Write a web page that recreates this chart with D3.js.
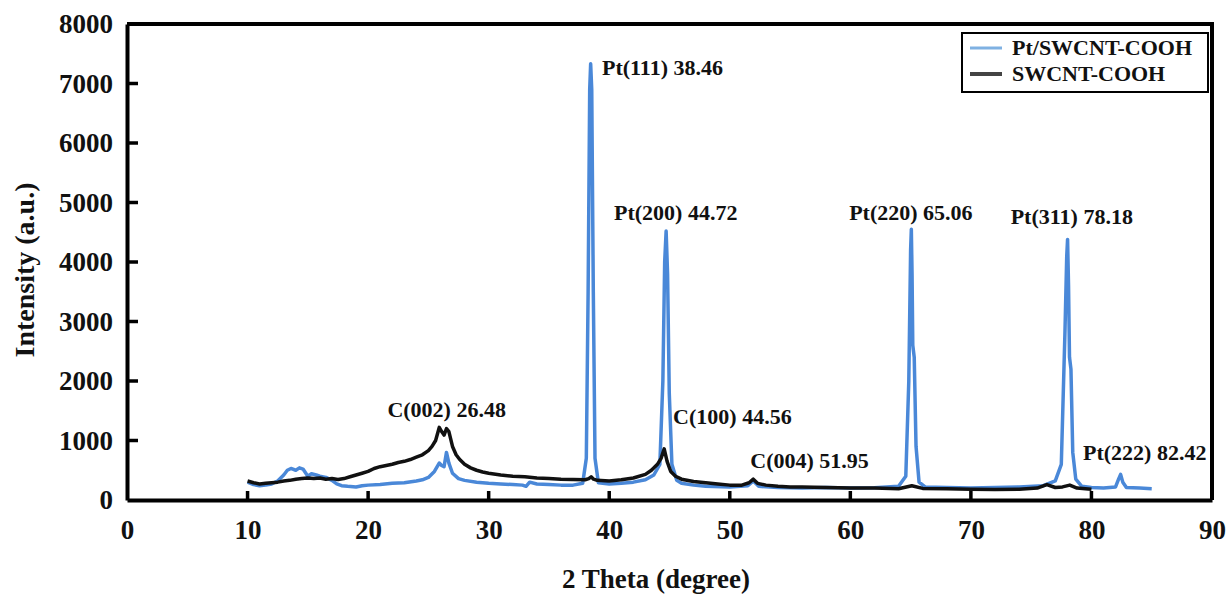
<!DOCTYPE html>
<html>
<head>
<meta charset="utf-8">
<script src="https://cdn.jsdelivr.net/npm/d3@7"></script>
<style>
  body { margin: 0; background: #fff; }
  svg text { font-family: "Liberation Serif", "Times New Roman", serif; font-weight: bold; fill: #111; }
</style>
</head>
<body>
<div id="container"></div>
<script>
// Pt/SWCNT-COOH pattern, [2theta, intensity]
var ptSwcnt = [
  [10,300],[10.5,260],[11,240],[11.5,250],[12,270],[12.5,320],[13,420],[13.3,500],[13.6,530],[14,500],
  [14.3,540],[14.6,520],[15,400],[15.3,440],[15.7,420],[16,400],[16.5,380],[17,330],[17.4,270],[17.8,240],
  [18.3,230],[19,220],[19.5,240],[20,250],[21,260],[22,280],[23,290],[24,320],[24.5,340],[25,380],
  [25.5,480],[25.9,620],[26.1,580],[26.3,560],[26.5,800],[26.7,620],[27,450],[27.5,360],[28,330],[29,300],
  [30,280],[31,270],[32,260],[32.8,250],[33.1,230],[33.4,300],[34,270],[35,260],[36,250],[37,250],
  [37.8,280],[38.1,700],[38.25,3500],[38.38,6900],[38.46,7330],[38.55,6900],[38.68,3500],[38.82,700],[39.1,290],[40,270],
  [41,280],[42,300],[43,340],[43.7,420],[44.2,600],[44.45,2000],[44.6,4000],[44.72,4520],[44.84,3800],[44.98,1800],
  [45.2,600],[45.6,330],[46,280],[47,250],[48,230],[50,220],[51.5,240],[51.95,320],[52.4,230],[54,210],
  [56,200],[58,210],[60,200],[62,205],[64,230],[64.6,400],[64.85,2000],[65.0,4200],[65.06,4550],[65.12,3800],
  [65.18,2600],[65.3,2400],[65.45,900],[65.7,300],[66.2,220],[68,210],[70,200],[72,210],[74,220],[76,240],
  [77,320],[77.5,600],[77.8,2800],[77.95,4100],[78.02,4380],[78.1,3600],[78.18,2400],[78.3,2200],[78.45,800],[78.7,350],
  [79.2,230],[80,210],[81,200],[82,220],[82.25,350],[82.42,430],[82.6,300],[82.9,210],[84,200],[85,190]
]

// SWCNT-COOH pattern, [2theta, intensity]
var swcnt = [
  [10,320],[10.5,290],[11,270],[11.5,280],[12,290],[12.5,300],[13,320],[13.5,330],[14,350],[14.5,360],
  [15,370],[15.5,360],[16,370],[16.5,350],[17,360],[17.5,345],[18,360],[18.5,390],[19,420],[19.5,450],
  [20,480],[20.5,530],[21,560],[21.5,580],[22,600],[22.5,630],[23,650],[23.5,680],[24,720],[24.5,760],
  [25,830],[25.3,900],[25.6,1000],[25.9,1220],[26.1,1150],[26.3,1090],[26.5,1200],[26.7,1150],[27,900],[27.3,760],
  [27.6,680],[28,600],[28.5,540],[29,500],[29.5,470],[30,450],[31,420],[32,400],[33,390],[34,370],
  [35,360],[36,350],[37,345],[38,340],[38.3,360],[38.5,390],[38.7,350],[39,330],[40,320],[41,340],
  [42,370],[43,430],[43.5,500],[44,600],[44.3,700],[44.56,860],[44.8,650],[45.1,480],[45.5,400],[46,350],
  [47,310],[48,290],[49,270],[50,250],[51,250],[51.6,290],[51.95,350],[52.3,280],[53,250],[54,230],
  [55,220],[56,220],[58,210],[60,200],[62,200],[64,190],[65.1,240],[66,195],[68,190],[70,180],
  [72,175],[74,180],[75.5,200],[76.3,260],[77,210],[77.6,220],[78.2,250],[78.8,200],[79.5,190],[80,180]
]

var xTicks = [0, 10, 20, 30, 40, 50, 60, 70, 80, 90]
var yTicks = [0, 1000, 2000, 3000, 4000, 5000, 6000, 7000, 8000]

var seriesNames = ['Pt/SWCNT-COOH', 'SWCNT-COOH']

// peak labels: text, anchor 2theta, anchor intensity
var peakLabels = [
  ['Pt(111) 38.46', 39.4, 7150],
  ['Pt(200) 44.72', 40.4, 4700],
  ['Pt(220) 65.06', 59.9, 4700],
  ['Pt(311) 78.18', 73.3, 4640],
  ['C(002) 26.48', 21.6, 1400],
  ['C(100) 44.56', 45.3, 1270],
  ['C(004) 51.95', 51.7, 530],
  ['Pt(222) 82.42', 79.3, 670]
]

var width = 1227
var height = 595
var plotLeft = 127, plotRight = 1212, plotTop = 24, plotBottom = 500

var svg = d3.select('#container').append('svg')
  .attr('width', width)
  .attr('height', height)

var x = d3.scaleLinear().domain([0, 90]).range([plotLeft, plotRight])
var y = d3.scaleLinear().domain([0, 8000]).range([plotBottom, plotTop])

var line = d3.line()
  .x(function(d){ return x(d[0]) })
  .y(function(d){ return y(d[1]) })

svg.append('path')
  .datum(ptSwcnt)
  .attr('d', line)
  .attr('fill', 'none')
  .attr('stroke', '#4a88d8')
  .attr('stroke-width', 3.5)
  .attr('stroke-linejoin', 'round')

svg.append('path')
  .datum(swcnt)
  .attr('d', line)
  .attr('fill', 'none')
  .attr('stroke', '#111')
  .attr('stroke-width', 3.5)
  .attr('stroke-linejoin', 'round')

// frame top and right
svg.append('path')
  .attr('d', 'M' + plotLeft + ',' + plotTop + 'H' + plotRight + 'V' + plotBottom)
  .attr('fill', 'none')
  .attr('stroke', '#000')
  .attr('stroke-width', 4)

// axes
var xAxis = d3.axisBottom(x).tickValues(xTicks).tickSize(0).tickPadding(20)
var gx = svg.append('g').attr('transform', 'translate(0,' + plotBottom + ')').call(xAxis)
gx.select('.domain').attr('stroke', '#000').attr('stroke-width', 4)
gx.selectAll('text').attr('font-size', 27).attr('fill', '#111')

var yAxis = d3.axisLeft(y).tickValues(yTicks).tickFormat(d3.format('d')).tickSize(0).tickPadding(14)
var gy = svg.append('g').attr('transform', 'translate(' + plotLeft + ',0)').call(yAxis)
gy.select('.domain').attr('stroke', '#000').attr('stroke-width', 4)
gy.selectAll('text').attr('font-size', 27).attr('fill', '#111')

// inward ticks
svg.selectAll('.xtick')
  .data(xTicks.filter(function(d){ return d > 0 && d < 90 }))
  .enter().append('line')
  .attr('x1', function(d){ return x(d) })
  .attr('x2', function(d){ return x(d) })
  .attr('y1', plotBottom)
  .attr('y2', plotBottom - 9)
  .attr('stroke', '#000')
  .attr('stroke-width', 3.5)

svg.selectAll('.ytick')
  .data(yTicks.filter(function(d){ return d > 0 && d < 8000 }))
  .enter().append('line')
  .attr('x1', plotLeft)
  .attr('x2', plotLeft + 11)
  .attr('y1', function(d){ return y(d) })
  .attr('y2', function(d){ return y(d) })
  .attr('stroke', '#000')
  .attr('stroke-width', 3.5)

// axis titles
svg.append('text')
  .attr('x', 656)
  .attr('y', 588)
  .attr('text-anchor', 'middle')
  .attr('font-size', 27)
  .text('2 Theta (degree)')

svg.append('text')
  .attr('transform', 'translate(34,270) rotate(-90)')
  .attr('text-anchor', 'middle')
  .attr('font-size', 28)
  .text('Intensity (a.u.)')

// peak labels
svg.selectAll('.peak')
  .data(peakLabels)
  .enter().append('text')
  .attr('x', function(d){ return x(d[1]) })
  .attr('y', function(d){ return y(d[2]) })
  .attr('font-size', 22)
  .text(function(d){ return d[0] })

// legend
var legend = svg.append('g').attr('transform', 'translate(962,33)')
legend.append('rect')
  .attr('width', 246)
  .attr('height', 59)
  .attr('fill', '#fff')
  .attr('stroke', '#000')
  .attr('stroke-width', 2)

var legendColors = ['#7fb1e2', '#444']
seriesNames.forEach(function(name, i){
  legend.append('line')
    .attr('x1', 8).attr('x2', 40)
    .attr('y1', 15 + i * 26).attr('y2', 15 + i * 26)
    .attr('stroke', legendColors[i])
    .attr('stroke-width', i === 0 ? 3 : 4)
  legend.append('text')
    .attr('x', 50)
    .attr('y', 22 + i * 26)
    .attr('font-size', 22)
    .text(name)
})
</script>
</body>
</html>
